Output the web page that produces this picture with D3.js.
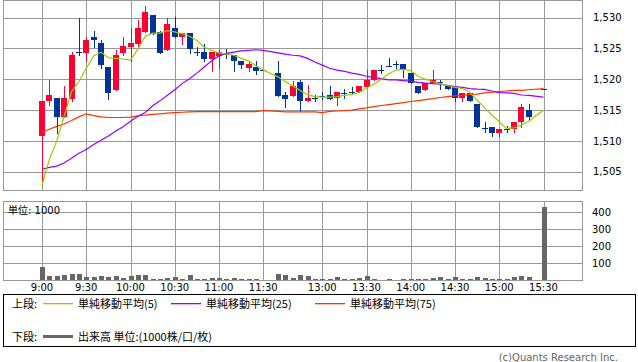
<!DOCTYPE html>
<html><head><meta charset="utf-8">
<script src="https://cdn.jsdelivr.net/npm/d3@7"></script>
<style>
body{margin:0;background:#fff;}
svg{display:block;}
text{font-family:"DejaVu Sans","Noto Sans CJK JP",sans-serif;}
.jp{font-family:"Noto Sans CJK JP","DejaVu Sans",sans-serif;}
</style>
</head><body>
<svg id="c" width="638" height="362"></svg>
<script>
const times = ["9:00","9:05","9:10","9:15","9:20","9:25","9:30","9:35","9:40","9:45","9:50","9:55","10:00","10:05","10:10","10:15","10:20","10:25","10:30","10:35","10:40","10:45","10:50","10:55","11:00","11:05","11:10","11:15","11:20","11:25","11:30","12:30","12:35","12:40","12:45","12:50","12:55","13:00","13:05","13:10","13:15","13:20","13:25","13:30","13:35","13:40","13:45","13:50","13:55","14:00","14:05","14:10","14:15","14:20","14:25","14:30","14:35","14:40","14:45","14:50","14:55","15:00","15:05","15:10","15:15","15:20","15:30"];

const open = [1510.8,1516.4,1516.9,1513.9,1516.8,1524.4,1524.3,1526.9,1525.9,1522.0,
 1518.3,1524.3,1525.3,1525.8,1527.7,1530.4,1527.6,1524.8,1528.3,1526.8,
 1527.5,1524.5,1524.5,1523.3,1523.8,1524.2,1523.9,1523.0,1521.9,1522.0,
 1521.5,
 1521.1,1517.5,1517.3,1519.5,1516.4,1517.0,1517.3,1517.5,1516.9,1517.8,
 1518.0,1517.9,1518.8,1519.9,1521.5,1522.2,1522.5,1522.5,1521.1,1518.9,
 1518.3,1519.4,1519.5,1518.9,1518.7,1516.9,1517.8,1516.0,1512.1,1512.3,
 1511.3,1512.0,1511.9,1513.0,1515.0,
 1518.4];
const high = [1516.5,1519.9,1517.0,1518.9,1524.5,1529.9,1526.9,1527.8,1526.4,1522.0,
 1524.8,1526.9,1528.3,1529.6,1531.9,1530.4,1527.8,1529.9,1530.1,1527.5,
 1527.5,1525.3,1525.8,1524.4,1524.9,1524.9,1523.9,1523.0,1523.0,1523.0,
 1521.5,
 1523.0,1518.0,1519.8,1519.9,1519.0,1517.5,1518.0,1518.9,1517.9,1518.4,
 1518.8,1518.9,1521.5,1521.5,1522.3,1523.4,1523.0,1522.5,1521.1,1518.9,
 1519.4,1521.5,1519.9,1518.9,1518.7,1517.8,1517.8,1516.0,1513.0,1512.3,
 1511.9,1512.4,1513.0,1516.0,1516.0,
 1518.4];
const low = [1502.8,1515.8,1511.3,1513.9,1516.4,1523.9,1522.9,1525.3,1521.9,1516.8,
 1518.3,1523.9,1522.9,1525.3,1527.7,1527.3,1524.3,1524.8,1526.8,1525.8,
 1524.3,1523.9,1522.9,1521.4,1521.9,1523.4,1521.4,1521.9,1521.4,1520.9,
 1521.5,
 1517.3,1515.5,1517.3,1514.9,1516.4,1516.4,1516.8,1516.8,1515.9,1516.9,
 1517.7,1517.9,1518.8,1519.9,1521.0,1522.2,1521.9,1520.3,1519.4,1517.8,
 1518.3,1519.4,1518.4,1518.4,1516.4,1516.4,1516.4,1512.3,1511.4,1510.8,
 1510.8,1511.4,1511.4,1512.3,1513.4,
 1518.4];
const close = [1516.5,1517.5,1513.9,1516.9,1523.9,1524.4,1526.4,1526.3,1522.4,1517.8,
 1523.9,1525.4,1525.9,1528.3,1530.9,1527.3,1524.3,1529.0,1526.8,1527.5,
 1524.9,1524.3,1523.3,1524.4,1524.5,1524.0,1522.9,1522.3,1522.5,1521.4,
 1521.5,
 1517.3,1516.8,1518.9,1516.4,1516.9,1516.9,1517.2,1516.8,1517.9,1517.7,
 1517.9,1518.9,1519.9,1521.5,1521.5,1522.2,1522.5,1521.7,1519.4,1517.8,
 1519.4,1519.9,1519.4,1518.4,1516.9,1517.8,1516.4,1512.3,1512.0,1511.3,
 1511.9,1511.9,1513.0,1515.5,1513.9,
 1518.4];
const volume = [80,25,25,31,37,37,21,21,27,21,
 27,15,27,31,31,8,8,15,21,8,
 31,8,8,15,15,8,15,8,8,8,
 2,
 37,31,15,31,25,8,8,8,19,8,
 8,13,25,8,2,8,2,8,8,8,
 8,13,19,8,19,8,8,19,13,8,
 8,8,19,25,19,
 429];
const ma5 = [1502.8,1507.0,1510.0,1514.0,1518.0,1519.6,1521.8,1523.8,1524.4,1523.5,
 1523.4,1523.3,1523.1,1524.9,1527.0,1527.5,1527.5,1527.9,1527.7,1527.4,
 1527.0,1526.3,1525.2,1524.7,1524.3,1524.1,1523.9,1523.4,1523.0,1522.2,
 1521.5,
 1520.4,1519.6,1518.9,1518.2,1517.5,1517.2,1517.1,1517.1,1517.2,1517.4,
 1517.5,1517.9,1518.6,1519.2,1520.0,1520.9,1521.5,1521.6,1521.4,1520.5,
 1520.0,1519.6,1519.3,1519.0,1518.7,1518.5,1517.9,1516.6,1515.4,1514.2,
 1513.1,1512.0,1512.1,1512.6,1513.2,
 1515.0];
const ma25 = [1505.4,1505.7,1505.9,1506.4,1507.2,1508.0,1508.6,1509.4,1510.1,1510.8,
 1511.6,1512.3,1513.2,1514.0,1514.6,1515.7,1516.5,1517.4,1518.3,1519.3,
 1520.1,1521.0,1522.0,1523.0,1523.8,1524.2,1524.4,1524.6,1524.7,1524.8,
 1524.7,
 1524.3,1524.1,1523.9,1523.8,1523.4,1522.8,1522.3,1521.8,1521.5,1521.3,
 1521.0,1520.8,1520.5,1520.3,1520.1,1519.9,1519.9,1519.8,1519.7,1519.5,
 1519.4,1519.3,1519.2,1519.0,1518.8,1518.7,1518.5,1518.4,1518.35,1518.1,
 1517.85,1517.8,1517.7,1517.45,1517.4,
 1517.1];
const ma75 = [1511.4,1511.9,1512.35,1512.75,1513.3,1513.9,1514.4,1514.1,1513.9,1513.8,
 1513.8,1513.8,1513.85,1514.05,1514.2,1514.3,1514.4,1514.5,1514.6,1514.65,
 1514.7,1514.75,1514.75,1514.75,1514.75,1514.75,1514.75,1514.75,1514.75,1514.75,
 1514.9,
 1514.8,1514.7,1514.7,1514.7,1514.7,1514.7,1514.6,1514.8,1514.85,1514.9,
 1515.0,1515.2,1515.35,1515.55,1515.75,1515.9,1516.05,1516.2,1516.4,1516.55,
 1516.7,1516.85,1517.05,1517.2,1517.3,1517.4,1517.55,1517.6,1517.8,1517.9,
 1518.0,1518.1,1518.2,1518.2,1518.3,
 1518.5];

const timeTicks = ["9:00","9:30","10:00","10:30","11:00","11:30","13:00","13:30","14:00","14:30","15:00","15:30"];
const priceTicks = [1505,1510,1515,1520,1525,1530];
const volTicks = [100,200,300,400];
const legendItems = [
  {label:"単純移動平均(5)", color:"#99cc00"},
  {label:"単純移動平均(25)", color:"#9900ff"},
  {label:"単純移動平均(75)", color:"#ff3300"}
];

// slot index on the intraday axis (morning 9:00-11:30, afternoon 12:30-15:30)
function slot(t){
  const [h,m] = t.split(":").map(Number);
  const mn = h*60+m;
  return mn <= 690 ? (mn-540)/5 : (mn-750)/5 + 32;
}

const svg = d3.select("#c");
const L = 3, R = 582;
const x = d3.scaleLinear().domain([0,68]).range([42,543.5]);
const y = d3.scaleLinear().domain([1505,1530]).range([171.7,17.7]);
const yv = d3.scaleLinear().domain([0,400]).range([280.3,212.3]);

const data = times.map((t,i)=>({t, s:slot(t), o:open[i], h:high[i], l:low[i], c:close[i], v:volume[i],
  m5:ma5[i], m25:ma25[i], m75:ma75[i]}));

const grid = svg.append("g").attr("stroke","#999").attr("stroke-width",1).attr("shape-rendering","crispEdges");
priceTicks.forEach(p=>{
  const yy = Math.round(y(p))+0.5;
  grid.append("line").attr("x1",L).attr("x2",R).attr("y1",yy).attr("y2",yy);
});
volTicks.forEach(v=>{
  const yy = Math.round(yv(v))+0.5;
  grid.append("line").attr("x1",L).attr("x2",R).attr("y1",yy).attr("y2",yy);
});
timeTicks.forEach(t=>{
  const xx = Math.round(x(slot(t)))+0.5;
  grid.append("line").attr("x1",xx).attr("x2",xx).attr("y1",0).attr("y2",190);
  grid.append("line").attr("x1",xx).attr("x2",xx).attr("y1",201).attr("y2",280);
});
grid.append("rect").attr("x",L+0.5).attr("y",0.5).attr("width",R-L).attr("height",190).attr("fill","none");
grid.append("rect").attr("x",L+0.5).attr("y",201.5).attr("width",R-L).attr("height",79).attr("fill","none");

// volume bars
const yv0 = yv(0);
svg.append("g").attr("shape-rendering","crispEdges").selectAll("rect").data(data).join("rect")
  .attr("x",d=>Math.round(x(d.s))-2).attr("width",5)
  .attr("y",d=>Math.round(yv(d.v))).attr("height",d=>Math.max(0,Math.round(yv0)-Math.round(yv(d.v))))
  .attr("fill","#666");

// candles
const RED="#ff0033", BLUE="#003399";
const cg = svg.append("g").attr("shape-rendering","crispEdges");
data.forEach(d=>{
  const cx = Math.round(x(d.s));
  const col = d.c > d.o ? RED : BLUE;
  const yh = Math.round(y(d.h)), yl = Math.round(y(d.l));
  if (yl > yh) cg.append("rect").attr("x",cx).attr("width",1).attr("y",yh).attr("height",yl-yh+1).attr("fill",col);
  const yt = Math.round(y(Math.max(d.o,d.c))), yb = Math.round(y(Math.min(d.o,d.c)));
  cg.append("rect").attr("x",cx-3).attr("width",6).attr("y",yt).attr("height",Math.max(1,yb-yt)).attr("fill",col);
});

// moving averages
const line = key => d3.line().x(d=>x(d.s)).y(d=>y(d[key]));
[["m75","#ff3300"],["m25","#9900ff"],["m5","#99cc00"]].forEach(([k,c])=>{
  svg.append("path").datum(data).attr("d",line(k)).attr("fill","none").attr("stroke",c).attr("stroke-width",1.2);
});

// axis labels
const tg = svg.append("g").attr("font-size",10).attr("fill","#000");
timeTicks.forEach(t=>{
  tg.append("text").attr("x",x(slot(t))).attr("y",291).attr("text-anchor","middle").text(t);
});
priceTicks.forEach(p=>{
  tg.append("text").attr("x",593).attr("y",y(p)+3.7).text(d3.format(",")(p));
});
volTicks.forEach(v=>{
  tg.append("text").attr("x",592).attr("y",yv(v)+3.7).text(v);
});
tg.append("text").attr("x",8).attr("y",213.5).text("単位: 1000");

// legend
svg.append("rect").attr("x",3.5).attr("y",294.5).attr("width",632).attr("height",51.5)
  .attr("fill","none").attr("stroke","#000").attr("shape-rendering","crispEdges");
const lg = svg.append("g").attr("class","jp").attr("font-size",11).attr("fill","#000");
lg.append("text").attr("class","jp").attr("x",12).attr("y",307.5).text("上段:");
const lx = [43,171,315];
legendItems.forEach((it,i)=>{
  svg.append("rect").attr("x",lx[i]).attr("y",303).attr("width",30).attr("height",1.3)
    .attr("fill",it.color);
  lg.append("text").attr("class","jp").attr("x",lx[i]+35).attr("y",307.5).text(it.label);
});
lg.append("text").attr("class","jp").attr("x",12).attr("y",341).text("下段:");
svg.append("rect").attr("x",43).attr("y",335).attr("width",30).attr("height",3).attr("fill","#666");
lg.append("text").attr("class","jp").attr("x",78).attr("y",341).text("出来高 単位:(1000株/口/枚)");

svg.append("text").attr("x",618).attr("y",361).attr("text-anchor","end").attr("font-size",10)
  .attr("fill","#666").text("(c)Quants Research Inc.");
</script>
</body></html>
